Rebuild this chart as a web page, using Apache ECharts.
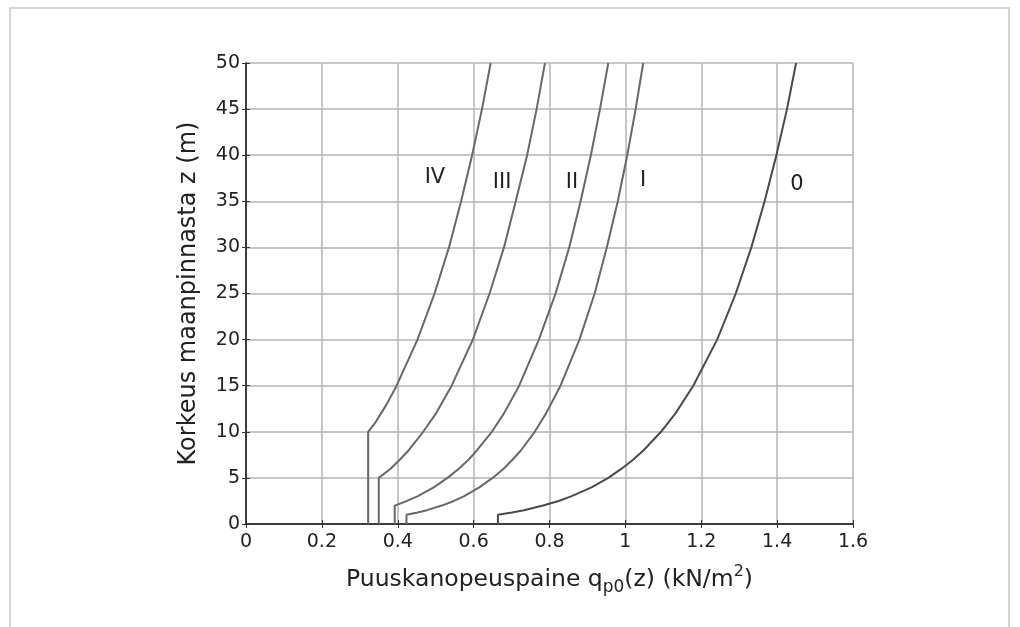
<!DOCTYPE html>
<html>
<head>
<meta charset="utf-8">
<script src="https://cdn.jsdelivr.net/npm/echarts@6/dist/echarts.min.js"></script>
<style>
  html, body { margin: 0; padding: 0; background: #fff; }
  #chart { width: 1020px; height: 627px; }
</style>
</head>
<body>
<div id="chart"></div>
<script>
// korkeus z (m) ja puuskanopeuspaine (kN/m2) maastoluokittain
var z0 = [0, 1, 1.25, 1.5, 2, 2.5, 3, 4, 5, 6, 7, 8, 10, 12, 15, 20, 25, 30, 35, 40, 45, 50];
var q0 = [0.664, 0.664, 0.701, 0.733, 0.783, 0.824, 0.857, 0.912, 0.955, 0.990, 1.021, 1.048, 1.094, 1.132, 1.179, 1.242, 1.291, 1.332, 1.367, 1.398, 1.426, 1.450];

var zI = [0, 1, 1.25, 1.5, 2, 2.5, 3, 4, 5, 6, 7, 8, 10, 12, 15, 20, 25, 30, 35, 40, 45, 50];
var qI = [0.423, 0.423, 0.452, 0.477, 0.516, 0.548, 0.574, 0.616, 0.650, 0.679, 0.703, 0.725, 0.761, 0.791, 0.829, 0.879, 0.919, 0.951, 0.980, 1.005, 1.027, 1.047];

var zII = [0, 2, 2.5, 3, 4, 5, 6, 7, 8, 10, 12, 15, 20, 25, 30, 35, 40, 45, 50];
var qII = [0.392, 0.392, 0.424, 0.452, 0.496, 0.531, 0.561, 0.587, 0.609, 0.648, 0.680, 0.720, 0.772, 0.816, 0.852, 0.882, 0.909, 0.933, 0.955];

var zIII = [0, 5, 6, 7, 8, 10, 12, 15, 20, 25, 30, 35, 40, 45, 50];
var qIII = [0.350, 0.350, 0.381, 0.406, 0.429, 0.467, 0.501, 0.542, 0.598, 0.642, 0.680, 0.711, 0.741, 0.766, 0.788];

var zIV = [0, 10, 11, 12, 13, 15, 20, 25, 30, 35, 40, 45, 50];
var qIV = [0.322, 0.322, 0.341, 0.356, 0.371, 0.397, 0.452, 0.497, 0.535, 0.567, 0.596, 0.622, 0.645];

var names = ['0', 'I', 'II', 'III', 'IV'];
var xTicks = [0, 0.2, 0.4, 0.6, 0.8, 1, 1.2, 1.4, 1.6];

var curves = [[q0, z0], [qI, zI], [qII, zII], [qIII, zIII], [qIV, zIV]];
// tekstien paikat (x, z)
var labelAt = [[1.452, 36.8], [1.047, 37.2], [0.859, 37.0], [0.675, 37.0], [0.498, 37.6]];

var font = 'DejaVu Sans, sans-serif';
var lineCol = ['#4a4a4a', '#686868', '#686868', '#686868', '#686868'];

var series = curves.map(function (c, i) {
	var pts = c[0].map(function (v, k) { return [v, c[1][k]]; });
	return {
		name: names[i],
		type: 'line',
		data: pts,
		showSymbol: false,
		lineStyle: { color: lineCol[i], width: 2 },
		markPoint: {
			symbol: 'circle',
			symbolSize: 0,
			silent: true,
			label: {
				show: true,
				formatter: names[i],
				color: '#222',
				fontFamily: font,
				fontSize: 21
			},
			data: [{ coord: labelAt[i] }]
		}
	};
});

var dom = document.getElementById('chart');
var myChart = echarts.init(dom);
var option = {
	animation: false,
	graphic: [{
		type: 'rect',
		shape: { x: 10, y: 8, width: 999, height: 640 },
		style: { fill: 'none', stroke: '#c8c8c8', lineWidth: 1.5 },
		silent: true
	}],
	grid: { left: 246, right: 167, top: 63, bottom: 103 },
	xAxis: [{
		type: 'value',
		min: 0, max: 1.6, interval: 0.2,
		name: '{t|Puuskanopeuspaine q}{sub|p0}{t|(z) (kN/m}{sup|2}{t|)}',
		nameLocation: 'middle',
		nameGap: 40,
		nameTextStyle: {
			rich: {
				t: { fontSize: 23.5, fontFamily: font, color: '#222', lineHeight: 32, verticalAlign: 'middle' },
				sub: { fontSize: 17, fontFamily: font, color: '#222', lineHeight: 32, verticalAlign: 'bottom' },
				sup: { fontSize: 16, fontFamily: font, color: '#222', lineHeight: 32, verticalAlign: 'top' }
			}
		},
		axisLine: { show: true, lineStyle: { color: '#333', width: 1.5 } },
		axisTick: { show: true, inside: true, length: 4, lineStyle: { color: '#333' } },
		axisLabel: {
			color: '#222', fontSize: 19, fontFamily: font, margin: 9,
			formatter: function (v) { return xTicks.indexOf(+v.toFixed(1)) >= 0 ? String(+v.toFixed(1)) : ''; }
		},
		splitLine: { show: true, lineStyle: { color: '#b4b4b4', width: 1.5 } }
	}, {
		type: 'value', position: 'top',
		min: 0, max: 1.6, interval: 0.2,
		axisLine: { show: true, lineStyle: { color: '#333', width: 1.5 } },
		axisTick: { show: true, inside: true, length: 4, lineStyle: { color: '#333' } },
		axisLabel: { show: false },
		splitLine: { show: false }
	}],
	yAxis: [{
		type: 'value',
		min: 0, max: 50, interval: 5,
		name: 'Korkeus maanpinnasta z (m)',
		nameLocation: 'middle',
		nameGap: 45,
		nameTextStyle: { fontSize: 24, fontFamily: font, color: '#222' },
		axisLine: { show: true, lineStyle: { color: '#333', width: 1.5 } },
		axisTick: { show: true, inside: true, length: 4, lineStyle: { color: '#333' } },
		axisLabel: { color: '#222', fontSize: 19, fontFamily: font, margin: 6 },
		splitLine: { show: true, lineStyle: { color: '#b4b4b4', width: 1.5 } }
	}, {
		type: 'value', position: 'right',
		min: 0, max: 50, interval: 5,
		axisLine: { show: true, lineStyle: { color: '#333', width: 1.5 } },
		axisTick: { show: true, inside: true, length: 4, lineStyle: { color: '#333' } },
		axisLabel: { show: false },
		splitLine: { show: false }
	}],
	series: series
};
myChart.setOption(option);
</script>
</body>
</html>
